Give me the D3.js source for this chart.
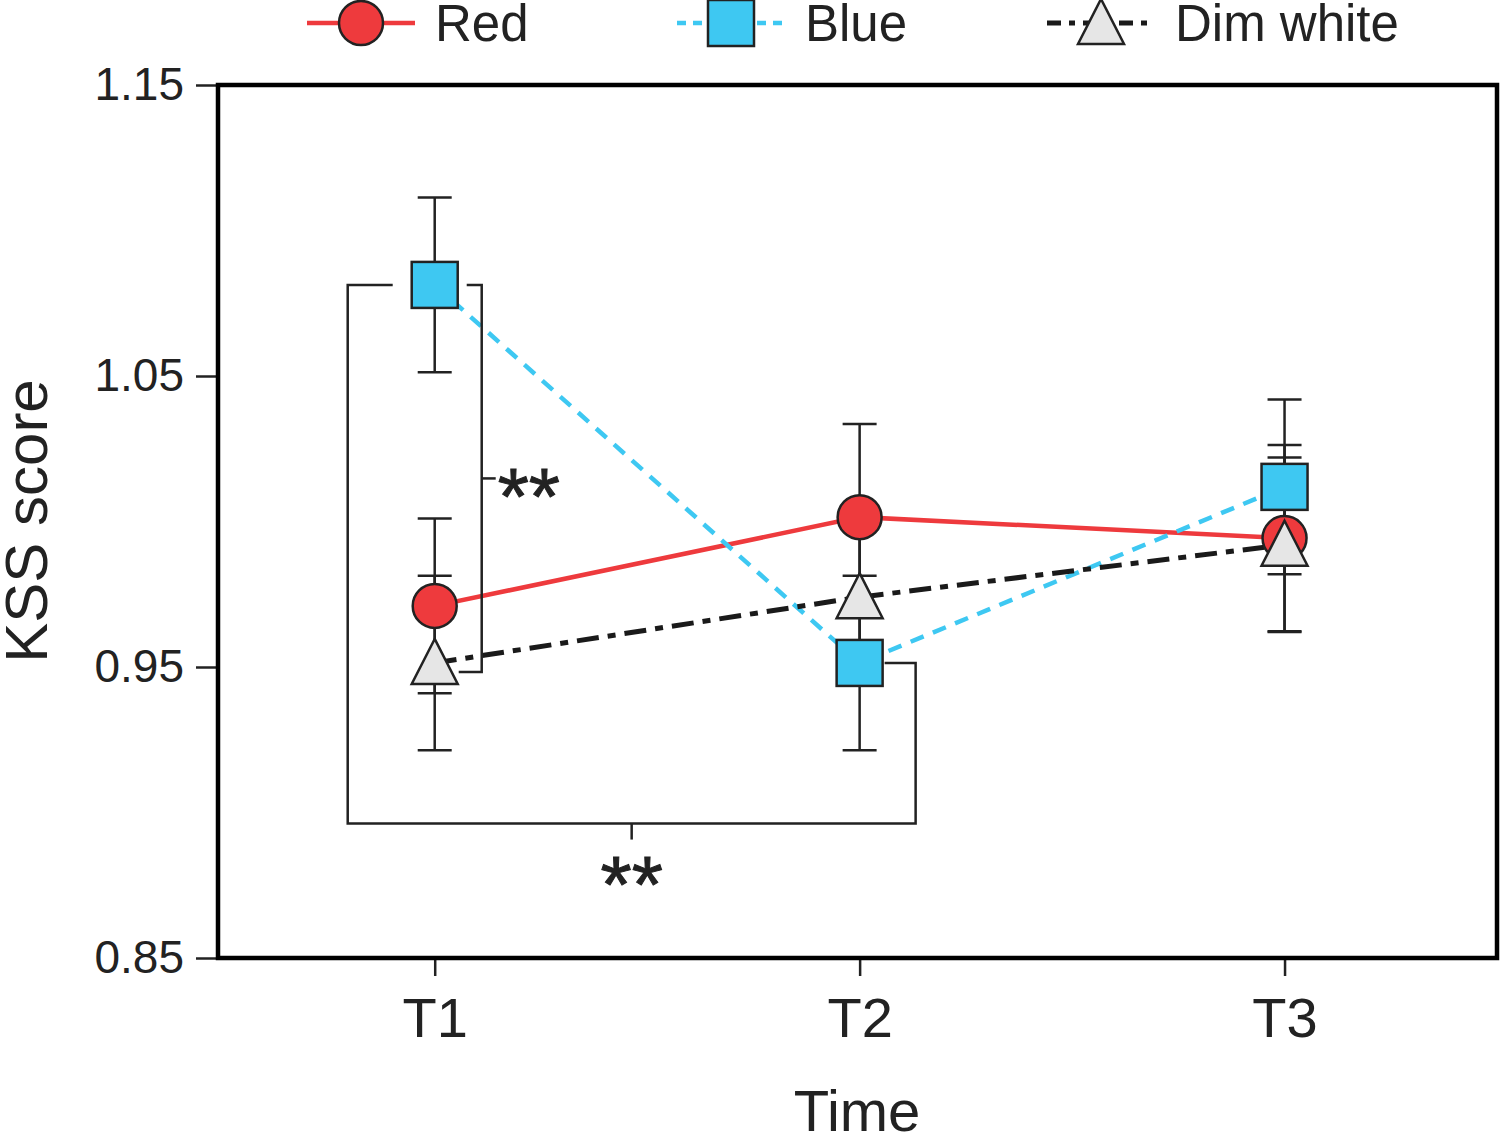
<!DOCTYPE html>
<html><head><meta charset="utf-8">
<script src="https://cdn.jsdelivr.net/npm/d3@7"></script>
<style>body{margin:0;background:#fff}svg{display:block}text{font-family:"Liberation Sans",Arial,sans-serif}</style>
</head><body>
<script>
const categories = ["T1","T2","T3"];
const seriesNames = ["Red","Blue","Dim white"];
const redMean = [0.971, 1.0015, 0.9943];
const redErr  = [0.030, 0.032, 0.032];
const blueMean = [1.0813, 0.9514, 1.0119];
const blueErr  = [0.030, 0.030, 0.030];
const dimMean = [0.9514, 0.974, 0.992];
const dimErr  = [0.030, 0.030, 0.030];
const yTicks = [0.85, 0.95, 1.05, 1.15];
const sigLabels = ["**", "**"];

const W=1500,H=1137;
const svg=d3.select("body").append("svg").attr("width",W).attr("height",H);
const L=218,R=1497,T=85,B=958;
const y=d3.scaleLinear().domain([0.85,1.15]).range([B,T]);
const x=d3.scaleLinear().domain([0.49,3.5]).range([L,R]);
const xc=i=>x(i+1);

const series=[
 {name:"Red",mean:redMean,err:redErr,color:"#ee3a3d",dash:null,width:4.5,shape:"circle",fill:"#ee3a3d"},
 {name:"Blue",mean:blueMean,err:blueErr,color:"#3ec8f2",dash:"14,10",width:4.5,shape:"square",fill:"#3ec8f2"},
 {name:"Dim white",mean:dimMean,err:dimErr,color:"#1a1a1a",dash:"22,9,8,9",width:5,shape:"triangle",fill:"#e6e6e6"}
];

// axes
const yAxis=d3.axisLeft(y).tickValues(yTicks).tickFormat(d3.format(".2f")).tickSize(22).tickPadding(12);
const gy=svg.append("g").attr("transform",`translate(${L},0)`).call(yAxis);
gy.select(".domain").remove();
gy.selectAll("line").attr("stroke","#222").attr("stroke-width",2.5);
gy.selectAll("text").attr("font-size",46).attr("fill","#222");

const xAxis=d3.axisBottom(x).tickValues([1,2,3]).tickFormat(d=>categories[d-1]).tickSize(18).tickPadding(21);
const gx=svg.append("g").attr("transform",`translate(0,${B})`).call(xAxis);
gx.select(".domain").remove();
gx.selectAll("line").attr("stroke","#222").attr("stroke-width",2.5);
gx.selectAll("text").attr("font-size",56).attr("fill","#222");

svg.append("text").attr("x",857).attr("y",1131).attr("text-anchor","middle").attr("font-size",58).attr("fill","#222").text("Time");
svg.append("text").attr("transform","translate(47,521) rotate(-90)").attr("text-anchor","middle").attr("font-size",60).attr("fill","#222").text("KSS score");

// lines
const line=d3.line().x((d,i)=>xc(i)).y(d=>y(d));
series.forEach(s=>{
  svg.append("path").attr("d",line(s.mean)).attr("fill","none").attr("stroke",s.color).attr("stroke-width",s.width).attr("stroke-dasharray",s.dash);
});

// significance brackets
const bk=svg.append("g").attr("fill","none").attr("stroke","#222").attr("stroke-width",2.5);
const xT1=xc(0), xT2=xc(1);
const bx1=xT1-87, byBot=y(0.8962);
bk.append("path").attr("d",`M${xT1-42},${y(blueMean[0])}H${bx1}V${byBot}H${xT2+56}V${y(blueMean[1])}H${xT2+25}`);
const bx2=xT1+47;
bk.append("path").attr("d",`M${xT1+32},${y(blueMean[0])}H${bx2}V${y(dimMean[0])+9}H${xT1+24}`);
const midY=(y(blueMean[0])+y(dimMean[0])+9)/2;
bk.append("path").attr("d",`M${bx2},${midY}H${bx2+14}`);
const midX=(bx1+xT2+56)/2;
bk.append("path").attr("d",`M${midX},${byBot}V${byBot+16}`);
svg.append("text").attr("x",bx2+16).attr("y",midY+46).attr("font-size",80).attr("fill","#222").attr("stroke","#222").attr("stroke-width",1).text(sigLabels[0]);
svg.append("text").attr("x",midX).attr("y",byBot+88).attr("text-anchor","middle").attr("font-size",80).attr("fill","#222").attr("stroke","#222").attr("stroke-width",1).text(sigLabels[1]);

// error bars
const eb=svg.append("g").attr("stroke","#222").attr("stroke-width",2.5);
series.forEach(s=>{
  s.mean.forEach((m,i)=>{
    const cx=xc(i), y1=y(m+s.err[i]), y2=y(m-s.err[i]);
    eb.append("line").attr("x1",cx).attr("x2",cx).attr("y1",y1).attr("y2",y2);
    eb.append("line").attr("x1",cx-17).attr("x2",cx+17).attr("y1",y1).attr("y2",y1);
    eb.append("line").attr("x1",cx-17).attr("x2",cx+17).attr("y1",y2).attr("y2",y2);
  });
});

function marker(g,shape,cx,cy,fill){
  if(shape==="circle") g.append("circle").attr("cx",cx).attr("cy",cy).attr("r",22).attr("fill",fill).attr("stroke","#222").attr("stroke-width",2.5);
  else if(shape==="square") g.append("rect").attr("x",cx-23).attr("y",cy-23).attr("width",46).attr("height",46).attr("fill",fill).attr("stroke","#222").attr("stroke-width",2.5);
  else g.append("path").attr("d",`M${cx},${cy-24}L${cx+23},${cy+21}L${cx-23},${cy+21}Z`).attr("fill",fill).attr("stroke","#222").attr("stroke-width",2.5).attr("stroke-linejoin","miter");
}
const mk=svg.append("g");
series.forEach(s=>s.mean.forEach((m,i)=>marker(mk,s.shape,xc(i),y(m),s.fill)));

// frame
svg.append("rect").attr("x",L).attr("y",T).attr("width",R-L).attr("height",B-T).attr("fill","none").attr("stroke","#000").attr("stroke-width",4.5);

// legend
const legX=[307,677,1047];
series.forEach((s,k)=>{
  const g=svg.append("g");
  const lx=legX[k], ly=23;
  g.append("line").attr("x1",lx).attr("x2",lx+108).attr("y1",ly).attr("y2",ly).attr("stroke",s.color).attr("stroke-width",s.width).attr("stroke-dasharray",s.dash?(k===1?"9,7":"14,8,6,8"):null);
  marker(g,s.shape,lx+54,ly,s.fill);
  g.append("text").attr("x",lx+128).attr("y",ly+18).attr("font-size",51).attr("fill","#222").text(seriesNames[k]);
});
</script>
</body></html>
